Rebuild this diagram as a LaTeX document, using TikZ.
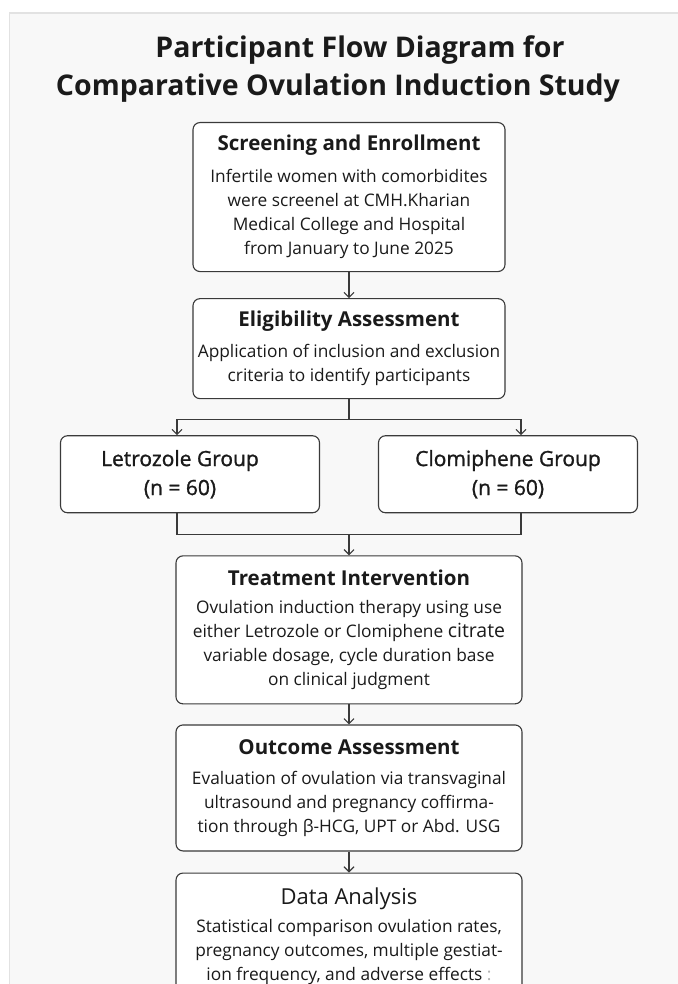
\documentclass[tikz,border=0pt]{standalone}
\usepackage{fontspec}
\setmainfont{Open Sans}
\newfontfamily\medfont{Open Sans}[FakeBold=1.2]
\usetikzlibrary{arrows.meta, positioning, calc}
\definecolor{cline}{HTML}{3A3A3A}
\definecolor{cpanel}{HTML}{F8F8F8}
\definecolor{cedge}{HTML}{E2E2E2}
\definecolor{ctext}{HTML}{1A1A1A}
\newcommand{\stagehead}[1]{{\bfseries\fontsize{20.5}{24}\selectfont #1}}
\tikzset{
  every picture/.style={line width=1.1pt},
  stage/.style={draw=cline, fill=white, rounded corners=7pt, align=center, inner sep=0pt, minimum width=#1, text=ctext, font=\fontsize{17.3}{24}\selectfont},
  stage/.default=346pt,
  group/.style={draw=cline, fill=white, rounded corners=7pt, align=center, inner sep=0pt, minimum width=259pt, minimum height=77pt, text=ctext, font=\medfont\fontsize{21}{29}\selectfont},
  arrow/.style={-{Straight Barb[length=5pt, width=10pt]}, draw=cline, line width=1.1pt},
  link/.style={draw=cline, line width=1.1pt},
  title/.style={font=\bfseries\fontsize{28.5}{38.5}\selectfont, align=center, text=ctext},
}

\begin{document}
\begin{tikzpicture}[x=1pt, y=1pt]
  \useasboundingbox (0,0) rectangle (677,-984);
  \fill[white] (0,0) rectangle (677,-984);
  \draw[cedge, fill=cpanel, line width=1.5pt] (9.5,-13) rectangle (700,-1000);

  \node[title] (title) at (349,-69) {\hspace*{22pt}Participant Flow Diagram for\\\hspace*{-22pt}Comparative Ovulation Induction Study};

  \node[stage=312pt, minimum height=149pt, anchor=north] (screen) at (349,-122) {\stagehead{Screening and Enrollment}\\[8pt]
    Infertile women with comorbidites\\were screenel at CMH.Kharian\\Medical College and Hospital\\from January to June 2025};
  \node[stage=312pt, minimum height=100pt, below=26pt of screen] (elig) {\stagehead{Eligibility Assessment}\\[7pt]
    Application of inclusion and exclusion\\criteria to identify participants};
  \node[group, below=36pt of elig, xshift=-159pt] (letro) {\hspace*{-20pt}Letrozole Group\\\hspace*{-20pt}(n = 60)};
  \node[group, below=36pt of elig, xshift=159pt] (clomi) {Clomiphene Group\\(n = 60)};
  \coordinate (split) at ([yshift=-20pt]elig.south);
  \coordinate (mid) at ($(letro.south)!.5!(clomi.south)$);
  \coordinate (merge) at ([yshift=-21pt]mid);
  \node[stage, minimum height=148pt, below=42pt of mid] (treat) {\stagehead{Treatment Intervention}\\[4pt]
    Ovulation induction therapy using use\\either Letrozole or Clomiphene {\fontsize{19.5}{24}\selectfont citrate}\\variable dosage, cycle duration base\\on clinical judgment};
  \node[stage, minimum height=126pt, below=20pt of treat] (outcome) {\stagehead{Outcome Assessment}\\[6pt]
    Evaluation of ovulation via transvaginal\\ultrasound and pregnancy coffirma-\\tion through β-HCG, UPT or Abd. USG};
  \node[stage, minimum height=126pt, below=21pt of outcome] (data) {{\fontsize{22}{24}\selectfont Data Analysis}\\[4pt]
    Statistical comparison ovulation rates,\\pregnancy outcomes, multiple gestiat-\\ion frequency, and adverse effects {\color{gray!60}:}};

  \draw[arrow] (screen) -- (elig);
  \draw[arrow] (elig.south) -- (split) -| ([xshift=-13pt]letro.north);
  \draw[arrow] (split) -| ([xshift=13pt]clomi.north);
  \draw[link] ([xshift=-13pt]letro.south) |- (merge) -| ([xshift=13pt]clomi.south);
  \draw[arrow] (merge) -- (treat);
  \draw[arrow] (treat) -- (outcome);
  \draw[arrow] (outcome) -- (data);
\end{tikzpicture}
\end{document}
